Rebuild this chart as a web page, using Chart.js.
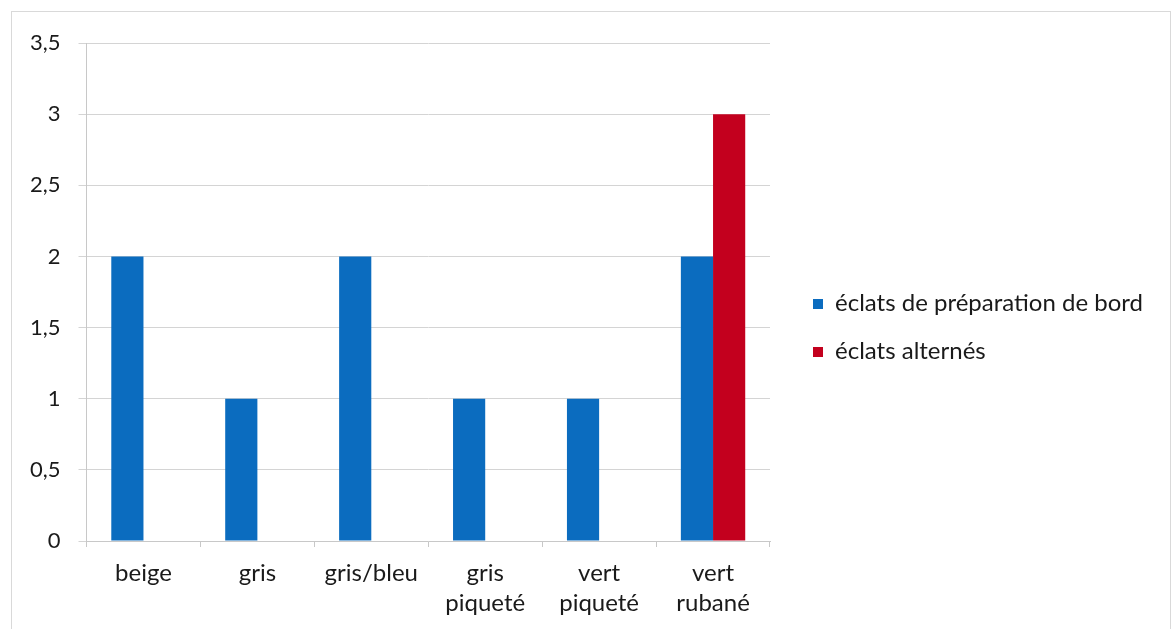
<!DOCTYPE html>
<html>
<head>
<meta charset="utf-8">
<script src="https://cdn.jsdelivr.net/npm/chart.js@4"></script>
<style>
  html, body { margin: 0; padding: 0; background: #fff; }
  #frame {
    position: absolute; left: 11px; top: 11px; width: 1158px; height: 640px;
    border: 1px solid #d9d9d9;
  }
  #wrap { position: absolute; left: 0; top: 0; width: 1172px; height: 629px; }
  #legend {
    position: absolute; left: 813px; top: 288px; margin: 0; padding: 0;
    list-style: none; font-family: Lato, "Open Sans", sans-serif; font-size: 24px; color: #1a1a1a;
  }
  #legend li { height: 48px; line-height: 28px; white-space: nowrap; }
  #legend span {
    display: inline-block; width: 10px; height: 10px; margin-right: 12px; vertical-align: 2px;
  }
</style>
</head>
<body>
<div id="frame"></div>
<div id="wrap"><canvas id="chart"></canvas></div>
<ul id="legend"></ul>
<script>
// catégories et séries
const categories = ['beige', 'gris', 'gris/bleu', ['gris', 'piqueté'], ['vert', 'piqueté'], ['vert', 'rubané']];
const prepBord = [2, 1, 2, 1, 1, 2];
const alternes = [0, 0, 0, 0, 0, 3];
const seriesNames = ['éclats de préparation de bord', 'éclats alternés'];
const yTicks = [0, 0.5, 1, 1.5, 2, 2.5, 3, 3.5];

const FONT = 'Lato, "Open Sans", sans-serif';
const TEXT = '#1a1a1a';

// légende HTML (celle de Chart.js est trop étroite à droite)
const htmlLegend = {
    id: 'htmlLegend',
    afterUpdate(chart) {
        const ul = document.getElementById('legend');
        ul.innerHTML = '';
        chart.data.datasets.forEach(ds => {
            const li = document.createElement('li');
            const box = document.createElement('span');
            box.style.background = ds.backgroundColor;
            li.appendChild(box);
            li.appendChild(document.createTextNode(ds.label));
            ul.appendChild(li);
        });
    }
};

document.addEventListener('DOMContentLoaded', () => {
    const ctx = document.getElementById('chart').getContext('2d');

    new Chart(ctx, {
        type: 'bar',
        data: {
            labels: categories,
            datasets: [{
                label: seriesNames[0],
                data: prepBord,
                backgroundColor: '#0b6cbf',
                categoryPercentage: 0.565,
                barPercentage: 1.0
            }, {
                label: seriesNames[1],
                data: alternes,
                backgroundColor: '#c3001e',
                categoryPercentage: 0.565,
                barPercentage: 1.0
            }]
        },
        plugins: [htmlLegend],
        options: {
            responsive: true,
            maintainAspectRatio: false,
            animation: false,
            layout: { padding: { left: 12, top: 43, right: 402, bottom: 0 } },
            plugins: {
                tooltip: { enabled: false },
                legend: { display: false }
            },
            scales: {
                x: {
                    grid: { display: true, drawOnChartArea: false, color: '#c8c8c8', tickLength: 6 },
                    border: { color: '#c8c8c8' },
                    ticks: {
                        color: TEXT,
                        padding: 11,
                        maxRotation: 0,
                        font: { family: FONT, size: 24, lineHeight: 1.25 }
                    }
                },
                y: {
                    min: yTicks[0],
                    max: yTicks[yTicks.length - 1],
                    afterBuildTicks: axis => { axis.ticks = yTicks.map(v => ({ value: v })); },
                    grid: { color: '#d4d4d4', tickLength: 8 },
                    border: { color: '#c8c8c8' },
                    ticks: {
                        color: TEXT,
                        padding: 18,
                        font: { family: FONT, size: 22 },
                        callback: v => String(v).replace('.', ',')
                    }
                }
            }
        }
    });
});
</script>
</body>
</html>
